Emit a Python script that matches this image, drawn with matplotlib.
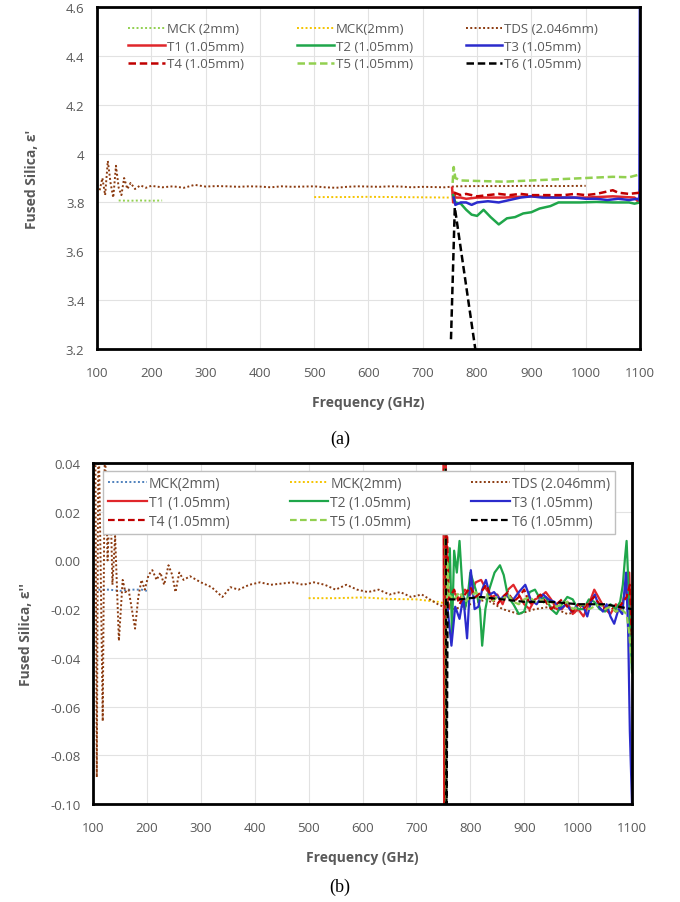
import numpy as np
import matplotlib.pyplot as plt

# ---- panel (a): real permittivity e'
a_mck1_x = [140, 160, 180, 200, 220]
a_mck1_y = [3.808, 3.807, 3.808, 3.807, 3.808]
a_mck2_x = [500, 550, 600, 650, 700, 750]
a_mck2_y = [3.822, 3.822, 3.823, 3.822, 3.821, 3.82]
a_tds_x = [105, 110, 115, 120, 125, 130, 135, 140, 145, 150, 156, 162, 170, 180, 190,
           200, 220, 240, 260, 280, 300, 320, 340, 360, 380, 400, 420, 440, 460, 480,
           500, 520, 540, 560, 580, 600, 620, 640, 660, 680, 700, 720, 740, 760, 800,
           850, 900, 950, 1000]
a_tds_y = [3.85, 3.90, 3.83, 3.97, 3.88, 3.82, 3.95, 3.86, 3.83, 3.90, 3.855, 3.88, 3.855, 3.87, 3.86,
           3.868, 3.862, 3.866, 3.86, 3.872, 3.865, 3.867, 3.866, 3.864, 3.866, 3.865, 3.862, 3.866, 3.864, 3.865,
           3.866, 3.862, 3.86, 3.864, 3.866, 3.865, 3.864, 3.866, 3.865, 3.862, 3.864, 3.863, 3.862, 3.866, 3.867,
           3.867, 3.868, 3.867, 3.868]
a_t1_x = [754, 756, 758, 760, 770, 780, 800, 850, 900, 950, 1000, 1050, 1090, 1098, 1100]
a_t1_y = [3.86, 3.80, 3.84, 3.82, 3.82, 3.815, 3.82, 3.82, 3.825, 3.82, 3.82, 3.825, 3.82, 3.80, 3.85]
a_t2_x = [756, 760, 770, 780, 790, 800, 812, 825, 840, 855, 870, 885, 900, 915, 935,
          950, 990, 1020, 1050, 1080, 1090, 1100]
a_t2_y = [3.83, 3.80, 3.795, 3.77, 3.75, 3.745, 3.77, 3.74, 3.71, 3.735, 3.74, 3.755, 3.76, 3.775, 3.785,
          3.80, 3.80, 3.802, 3.80, 3.80, 3.795, 3.80]
a_t3_x = [757, 760, 770, 780, 790, 800, 820, 840, 860, 880, 900, 920, 940, 960, 980,
          1000, 1020, 1040, 1060, 1080, 1095, 1099, 1100]
a_t3_y = [3.82, 3.79, 3.80, 3.80, 3.79, 3.80, 3.805, 3.80, 3.81, 3.82, 3.825, 3.82, 3.82, 3.82, 3.82,
          3.815, 3.815, 3.81, 3.815, 3.81, 3.815, 3.81, 4.70]
a_t4_x = [758, 770, 780, 790, 800, 820, 840, 860, 880, 900, 920, 940, 960, 980, 1000,
          1020, 1040, 1050, 1060, 1080, 1100]
a_t4_y = [3.84, 3.83, 3.835, 3.83, 3.825, 3.83, 3.835, 3.83, 3.835, 3.83, 3.83, 3.83, 3.83, 3.835, 3.83,
          3.835, 3.845, 3.85, 3.84, 3.835, 3.84]
a_t5_x = [755, 757, 760, 770, 800, 850, 900, 950, 1000, 1050, 1080, 1100]
a_t5_y = [3.88, 3.945, 3.90, 3.89, 3.888, 3.885, 3.89, 3.895, 3.90, 3.905, 3.903, 3.915]
a_t6_x = [752, 759, 800]
a_t6_y = [3.24, 3.78, 3.15]

# ---- panel (b): imaginary permittivity e''
b_mck1_x = [110, 130, 150, 170, 190, 200]
b_mck1_y = [-0.012, -0.012, -0.0125, -0.012, -0.012, -0.0125]
b_mck2_x = [500, 550, 600, 650, 700, 740, 750]
b_mck2_y = [-0.0155, -0.0155, -0.0152, -0.0158, -0.016, -0.017, -0.0175]
b_tds_x = [101, 104, 107, 110, 114, 118, 122, 127, 132, 136, 141, 148, 155, 160, 166,
           172, 178, 184, 190, 196, 203, 210, 218, 225, 232, 240, 247, 253, 260, 268,
           280, 300, 320, 340, 355, 370, 390, 410, 430, 450, 470, 490, 510, 530, 550,
           570, 590, 610, 630, 650, 670, 690, 710, 725, 740, 750, 770, 800, 830, 860,
           890, 920, 950, 980, 1000]
b_tds_y = [0.03, 0.06, -0.089, 0.06, 0.0, -0.066, 0.05, 0.0, 0.03, -0.01, 0.01, -0.033, -0.008, -0.013, -0.012,
           -0.02, -0.028, -0.015, -0.008, -0.012, -0.006, -0.004, -0.008, -0.005, -0.01, -0.002, -0.006, -0.013, -0.005, -0.008,
           -0.0065, -0.009, -0.011, -0.015, -0.011, -0.012, -0.01, -0.009, -0.01, -0.0095, -0.009, -0.01, -0.009, -0.01, -0.012,
           -0.01, -0.012, -0.013, -0.012, -0.014, -0.013, -0.015, -0.014, -0.016, -0.018, -0.019, -0.02, -0.018, -0.016, -0.02,
           -0.022, -0.02, -0.019, -0.022, -0.021]
b_t1_x = [750, 752, 754, 758, 760, 770, 780, 790, 800, 810, 820, 830, 840, 850, 860,
          870, 880, 890, 900, 910, 920, 930, 940, 950, 960, 970, 980, 990, 1000, 1010,
          1020, 1030, 1040, 1050, 1060, 1070, 1080, 1090, 1095, 1098, 1100]
b_t1_y = [0.05, -0.11, 0.05, -0.018, -0.02, -0.013, -0.016, -0.012, -0.014, -0.009, -0.008, -0.012, -0.015, -0.014, -0.018,
          -0.012, -0.01, -0.014, -0.018, -0.02, -0.016, -0.015, -0.013, -0.016, -0.02, -0.02, -0.017, -0.022, -0.02, -0.023,
          -0.018, -0.012, -0.016, -0.02, -0.022, -0.018, -0.02, -0.01, -0.005, -0.03, -0.02]
b_t2_x = [756, 758, 762, 766, 770, 775, 780, 785, 790, 795, 800, 810, 818, 822, 828,
          835, 845, 855, 862, 870, 880, 890, 900, 910, 920, 930, 940, 950, 960, 970,
          980, 990, 1000, 1010, 1020, 1030, 1040, 1050, 1060, 1070, 1078, 1083, 1087, 1090, 1093,
          1096, 1100]
b_t2_y = [-0.015, -0.012, 0.005, -0.03, 0.004, -0.005, 0.008, -0.01, -0.02, -0.015, -0.005, -0.012, -0.02, -0.035, -0.02,
          -0.012, -0.005, -0.002, -0.006, -0.015, -0.018, -0.022, -0.021, -0.013, -0.012, -0.016, -0.015, -0.02, -0.022, -0.018,
          -0.015, -0.016, -0.02, -0.02, -0.016, -0.017, -0.02, -0.021, -0.018, -0.02, -0.017, -0.01, 0.001, 0.008, -0.008,
          -0.025, -0.046]
b_t3_x = [758, 765, 772, 780, 787, 794, 801, 808, 815, 822, 829, 836, 844, 855, 866,
          880, 890, 902, 912, 923, 935, 945, 956, 967, 978, 988, 1000, 1010, 1017, 1024,
          1031, 1039, 1046, 1053, 1060, 1067, 1075, 1082, 1089, 1093, 1096, 1100]
b_t3_y = [-0.02, -0.035, -0.019, -0.024, -0.015, -0.032, -0.004, -0.02, -0.019, -0.012, -0.008, -0.014, -0.013, -0.016, -0.014,
          -0.016, -0.013, -0.01, -0.016, -0.018, -0.014, -0.016, -0.017, -0.02, -0.018, -0.021, -0.018, -0.019, -0.023, -0.017,
          -0.014, -0.019, -0.021, -0.018, -0.023, -0.026, -0.02, -0.022, -0.005, -0.03, -0.07, -0.10]
b_t4_x = [751, 753, 755, 760, 770, 780, 790, 800, 810, 820, 830, 840, 850, 860, 870,
          880, 890, 900, 910, 920, 930, 940, 950, 960, 970, 980, 990, 1000, 1010, 1020,
          1030, 1040, 1050, 1060, 1070, 1080, 1090, 1096, 1100]
b_t4_y = [0.05, -0.11, 0.03, -0.016, -0.012, -0.018, -0.014, -0.011, -0.015, -0.013, -0.01, -0.016, -0.018, -0.015, -0.013,
          -0.017, -0.015, -0.012, -0.018, -0.016, -0.014, -0.017, -0.02, -0.018, -0.016, -0.019, -0.021, -0.018, -0.02, -0.017,
          -0.015, -0.018, -0.02, -0.019, -0.021, -0.018, -0.015, -0.01, -0.035]
b_t5_x = [753, 755, 757, 760, 770, 780, 790, 800, 810, 820, 830, 840, 850, 860, 870,
          880, 890, 900, 910, 920, 930, 940, 950, 960, 970, 980, 990, 1000, 1010, 1020,
          1030, 1040, 1050, 1060, 1070, 1080, 1090, 1095, 1100]
b_t5_y = [0.05, -0.11, 0.0, -0.014, -0.016, -0.013, -0.017, -0.015, -0.013, -0.016, -0.014, -0.017, -0.015, -0.016, -0.014,
          -0.017, -0.018, -0.016, -0.015, -0.017, -0.016, -0.018, -0.017, -0.019, -0.018, -0.017, -0.02, -0.019, -0.018, -0.02,
          -0.019, -0.018, -0.02, -0.019, -0.021, -0.02, -0.022, -0.03, -0.045]
b_t6_x = [754, 756, 758, 780, 820, 860, 900, 950, 1000, 1050, 1100]
b_t6_y = [0.05, -0.11, -0.016, -0.016, -0.015, -0.016, -0.017, -0.017, -0.018, -0.018, -0.02]

labels_a = ['MCK (2mm)', 'MCK(2mm)', 'TDS (2.046mm)', 'T1 (1.05mm)', 'T2 (1.05mm)',
            'T3 (1.05mm)', 'T4 (1.05mm)', 'T5 (1.05mm)', 'T6 (1.05mm)']
labels_b = ['MCK(2mm)', 'MCK(2mm)', 'TDS (2.046mm)', 'T1 (1.05mm)', 'T2 (1.05mm)',
            'T3 (1.05mm)', 'T4 (1.05mm)', 'T5 (1.05mm)', 'T6 (1.05mm)']

c_red = '#e0262b'
c_green = '#1fa64a'
c_blue = '#2b2bcc'
c_dred = '#c00000'
c_lgreen = '#92d050'
c_brown = '#8b3a0f'
c_yellow = '#f5c400'
c_lblue = '#4f81bd'

dot = (0, (1, 1.2))
dash = (0, (3, 1.5))
# legend fills rows in the reference, matplotlib fills columns
order = [0, 3, 6, 1, 4, 7, 2, 5, 8]

plt.rcParams['font.family'] = ['Open Sans', 'DejaVu Sans']
fig = plt.figure(figsize=(6.8, 9.03), dpi=100)
gray = '#595959'


def style_axes(ax, ylim, yticks, ylabels, ylabel, ypad):
    ax.set_xlim(100, 1100)
    ax.set_ylim(*ylim)
    ax.set_xticks(range(100, 1101, 100))
    ax.set_yticks(yticks)
    ax.set_yticklabels(ylabels)
    ax.grid(True, color='#e2e2e2', linewidth=0.8)
    ax.set_axisbelow(True)
    ax.tick_params(length=0, labelsize=9.5, labelcolor=gray)
    ax.tick_params(axis='x', pad=12)
    ax.tick_params(axis='y', pad=9)
    for s in ax.spines.values():
        s.set_linewidth(2)
        s.set_color('black')
    ax.set_xlabel('Frequency (GHz)', fontsize=10, fontweight='bold', color=gray, labelpad=12)
    ax.set_ylabel(ylabel, fontsize=10, fontweight='bold', color=gray, labelpad=ypad)


def ordered_legend(ax, **kw):
    h, l = ax.get_legend_handles_labels()
    return ax.legend([h[i] for i in order], [l[i] for i in order], ncol=3,
                     loc='upper left', labelcolor=gray, handletextpad=0.15, **kw)


# panel (a)
ax1 = fig.add_axes([0.1426, 0.6124, 0.7985, 0.3787])
ax1.plot(a_mck1_x, a_mck1_y, color=c_lgreen, ls=dot, lw=1.4, label=labels_a[0])
ax1.plot(a_mck2_x, a_mck2_y, color=c_yellow, ls=dot, lw=1.4, label=labels_a[1])
ax1.plot(a_tds_x, a_tds_y, color=c_brown, ls=dot, lw=1.4, label=labels_a[2])
ax1.plot(a_t1_x, a_t1_y, color=c_red, lw=1.8, label=labels_a[3])
ax1.plot(a_t2_x, a_t2_y, color=c_green, lw=1.8, label=labels_a[4])
ax1.plot(a_t3_x, a_t3_y, color=c_blue, lw=1.8, label=labels_a[5])
ax1.plot(a_t4_x, a_t4_y, color=c_dred, ls=dash, lw=1.8, label=labels_a[6])
ax1.plot(a_t5_x, a_t5_y, color=c_lgreen, ls=dash, lw=1.8, label=labels_a[7])
ax1.plot(a_t6_x, a_t6_y, color='black', ls=dash, lw=1.8, label=labels_a[8])
style_axes(ax1, (3.2, 4.6), [3.2, 3.4, 3.6, 3.8, 4.0, 4.2, 4.4, 4.6],
           ['3.2', '3.4', '3.6', '3.8', '4', '4.2', '4.4', '4.6'], "Fused Silica, \u03b5'", 19)
ordered_legend(ax1, bbox_to_anchor=(0.045, 0.975), frameon=False, borderpad=0,
               fontsize=9.5, handlelength=2.8, columnspacing=4.0, labelspacing=0.35)
fig.text(0.5, 0.513, '(a)', ha='center', va='center', fontsize=13,
         family='Liberation Serif')

# panel (b)
ax2 = fig.add_axes([0.1368, 0.1085, 0.7926, 0.3777])
ax2.plot(b_mck1_x, b_mck1_y, color=c_lblue, ls=dot, lw=1.4, label=labels_b[0])
ax2.plot(b_mck2_x, b_mck2_y, color=c_yellow, ls=dot, lw=1.4, label=labels_b[1])
ax2.plot(b_tds_x, b_tds_y, color=c_brown, ls=dot, lw=1.4, label=labels_b[2])
ax2.plot(b_t1_x, b_t1_y, color=c_red, lw=1.6, label=labels_b[3])
ax2.plot(b_t2_x, b_t2_y, color=c_green, lw=1.6, label=labels_b[4])
ax2.plot(b_t3_x, b_t3_y, color=c_blue, lw=1.6, label=labels_b[5])
ax2.plot(b_t4_x, b_t4_y, color=c_dred, ls=dash, lw=1.6, label=labels_b[6])
ax2.plot(b_t5_x, b_t5_y, color=c_lgreen, ls=dash, lw=1.6, label=labels_b[7])
ax2.plot(b_t6_x, b_t6_y, color='black', ls=dash, lw=1.6, label=labels_b[8])
b_ticks = np.round(np.arange(-0.10, 0.041, 0.02), 2)
style_axes(ax2, (-0.10, 0.04), b_ticks, ['%.2f' % v for v in b_ticks],
           "Fused Silica, \u03b5''", 12)
ordered_legend(ax2, bbox_to_anchor=(0.006, 0.997), frameon=True, fancybox=False,
               edgecolor='#bfbfbf', framealpha=1, fontsize=10, handlelength=2.8,
               columnspacing=4.3, labelspacing=0.3, borderpad=0.35)
fig.text(0.5, 0.0177, '(b)', ha='center', va='center', fontsize=13,
         family='Liberation Serif')

fig.savefig('out.png', dpi=100)
